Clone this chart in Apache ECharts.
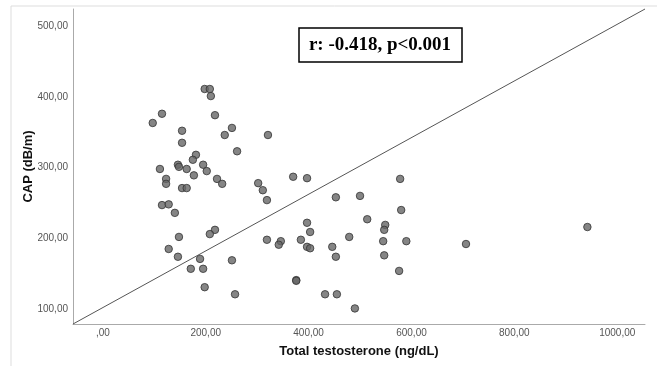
<!DOCTYPE html>
<html>
  <head>
    <meta charset="utf-8">
    <title>CAP vs Total testosterone</title>
    <script src="https://cdn.jsdelivr.net/npm/echarts@6/dist/echarts.min.js"></script>
    <style media="screen">
    html,body{
      height:100%;
      width:100%;
      margin:0px;
      background:#fff;
    }
    #chartDiv{
      width:657px;
      height:366px;
    }
    </style>
  </head>
  <body>
    <div id="chartDiv"></div>
    <script type="text/javascript">
      // testosterone (ng/dL)
      var testosterone = [198, 208, 210, 115, 97, 218, 154, 154, 251, 237, 321, 181, 175, 261, 146, 148, 195, 163, 202, 111,
        177, 123, 123, 222, 232, 154, 163, 302, 311, 319, 115, 128, 140, 218, 208, 148, 319, 128, 146, 189,
        251, 171, 195, 198, 257, 370, 397, 578, 453, 500, 580, 514, 397, 403, 549, 547, 346, 342, 385, 479,
        545, 590, 706, 397, 403, 446, 453, 547, 576, 376, 376, 432, 455, 490, 942];
      // CAP (dB/m)
      var cap = [411, 411, 401, 376, 363, 374, 352, 335, 356, 346, 346, 318, 311, 323, 304, 301, 304, 298, 295, 298,
        289, 284, 277, 284, 277, 271, 271, 278, 268, 254, 247, 248, 236, 212, 206, 202, 198, 185, 174, 171,
        169, 157, 157, 131, 121, 287, 285, 284, 258, 260, 240, 227, 222, 209, 219, 212, 196, 191, 198, 202,
        196, 196, 192, 188, 186, 188, 174, 176, 154, 141, 140, 121, 121, 101, 216];
      var xTicks = [0, 200, 400, 600, 800, 1000];
      var yTicks = [100, 200, 300, 400, 500];
      var xRange = [-58, 1054];
      var yRange = [79, 524];
      var statText = 'r: -0.418, p<0.001';

      function commaFmt(v){
        var s = v.toFixed(2).replace('.', ',');
        return s.indexOf('0,') === 0 ? s.substring(1) : s;
      }

      var points = [];
      for (var i = 0; i < testosterone.length; i++) {
        points.push([testosterone[i], cap[i]]);
      }

      var option = {
        animation: false,
        grid: {
          left: 73,
          right: 12,
          top: 9,
          bottom: 42
        },
        xAxis: {
          type: 'value',
          min: xRange[0],
          max: xRange[1],
          name: 'Total testosterone (ng/dL)',
          nameLocation: 'middle',
          nameGap: 21,
          nameMoveOverlap: false,
          nameTextStyle: {
            fontFamily: 'Liberation Sans',
            fontWeight: 'bold',
            fontSize: 13,
            color: '#111'
          },
          axisLine: {onZero: false, lineStyle: {color: '#aaa', width: 1}},
          axisTick: {show: false},
          splitLine: {show: false},
          axisLabel: {
            customValues: xTicks,
            formatter: commaFmt,
            fontFamily: 'Liberation Sans',
            fontSize: 10,
            color: '#555',
            margin: 4
          }
        },
        yAxis: {
          type: 'value',
          min: yRange[0],
          max: yRange[1],
          name: 'CAP (dB/m)',
          nameLocation: 'middle',
          nameGap: 38,
          nameMoveOverlap: false,
          nameTextStyle: {
            fontFamily: 'Liberation Sans',
            fontWeight: 'bold',
            fontSize: 13,
            color: '#111'
          },
          axisLine: {show: true, onZero: false, lineStyle: {color: '#aaa', width: 1}},
          axisTick: {show: false},
          splitLine: {show: false},
          axisLabel: {
            customValues: yTicks,
            formatter: commaFmt,
            fontFamily: 'Liberation Sans',
            fontSize: 10,
            color: '#555',
            margin: 5
          }
        },
        graphic: [
          {
            type: 'rect',
            silent: true,
            shape: {x: 11, y: 6, width: 700, height: 400},
            style: {fill: 'none', stroke: '#ddd', lineWidth: 1}
          },
          {
            type: 'rect',
            shape: {x: 299, y: 28, width: 163, height: 34},
            style: {fill: '#fff', stroke: '#000', lineWidth: 1.5},
            z: 10
          },
          {
            type: 'text',
            x: 380,
            y: 45,
            style: {
              text: statText,
              fontFamily: 'Liberation Serif',
              fontWeight: 'bold',
              fontSize: 19,
              fill: '#000',
              align: 'center',
              verticalAlign: 'middle'
            },
            z: 11
          }
        ],
        series: [
          {
            type: 'scatter',
            data: points,
            symbolSize: 7.5,
            itemStyle: {
              color: '#666',
              borderColor: '#333',
              borderWidth: 1
            },
            emphasis: {disabled: true},
            markLine: {
              silent: true,
              symbol: 'none',
              label: {show: false},
              lineStyle: {color: '#555', width: 1, type: 'solid'},
              data: [[
                {coord: [xRange[0], yRange[0]]},
                {coord: [xRange[1], yRange[1]]}
              ]]
            }
          }
        ]
      };

      var chart = echarts.init(document.getElementById('chartDiv'));
      chart.setOption(option);
    </script>
  </body>
</html>
